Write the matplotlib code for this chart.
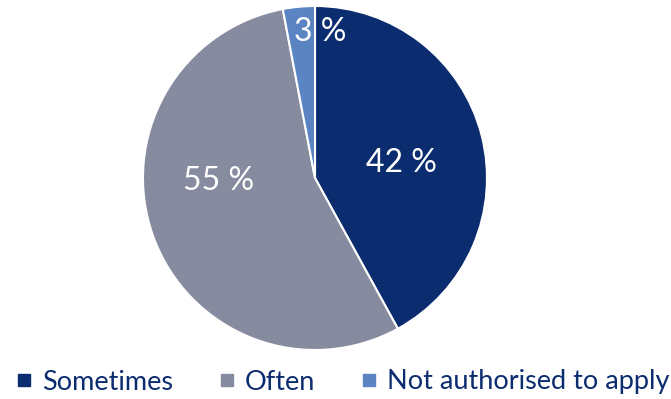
import matplotlib.pyplot as plt
from matplotlib.lines import Line2D

labels = ["Sometimes", "Often", "Not authorised to apply"]
values = [42, 55, 3]
colors = ["#0B2C6F", "#878B9F", "#5A84C2"]
navy = "#0B2C6F"

plt.rcParams['font.family'] = ['Lato', 'DejaVu Sans']

fig = plt.figure(figsize=(6.71, 3.99), dpi=100)
W, H = 671, 399
cx, cy, r = 315, 178, 172
ax = fig.add_axes([(cx - r) / W, (H - cy - r) / H, 2 * r / W, 2 * r / H])

wedges, _ = ax.pie(values, colors=colors, startangle=90, counterclock=False,
                   wedgeprops=dict(edgecolor="white", linewidth=1.5))
ax.set_xlim(-1, 1)
ax.set_ylim(-1, 1)
ax.set_aspect("equal")
ax.axis("off")

# value labels inside the slices
label_pos = [(0.50, 0.09), (-0.56, -0.02), (0.03, 0.85)]
for v, (x, y) in zip(values, label_pos):
    ax.text(x, y, f"{v} %", color="white", fontsize=23, ha="center", va="center")

handles = [Line2D([], [], marker="s", linestyle="none", markersize=9,
                  markerfacecolor=c, markeredgecolor=c) for c in colors]
leg = fig.legend(handles, labels, loc="center", bbox_to_anchor=(0.507, 1 - 382 / H),
                 ncol=3, frameon=False, fontsize=19.5, handletextpad=0.15,
                 columnspacing=1.5, handlelength=1.0, borderpad=0, borderaxespad=0)
for t in leg.get_texts():
    t.set_color(navy)

fig.savefig("out.png", dpi=100)
